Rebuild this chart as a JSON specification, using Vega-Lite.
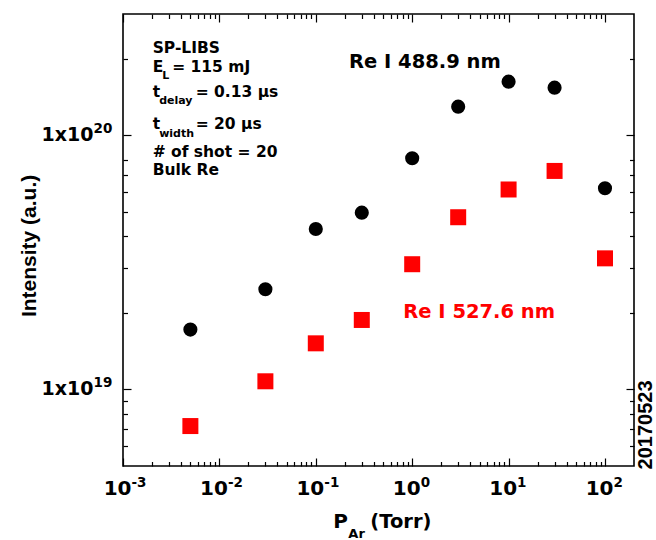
{
  "$schema": "https://vega.github.io/schema/vega-lite/v6.json",
  "width": 511,
  "height": 452,
  "autosize": {"type": "none"},
  "padding": {"left": 123, "top": 14, "right": 22, "bottom": 74},
  "background": "white",
  "config": {
    "view": {"stroke": "black", "strokeWidth": 1.6},
    "font": "DejaVu Sans",
    "axis": {"grid": false, "domain": false, "labels": false, "title": null, "tickColor": "black", "tickWidth": 1.2}
  },
  "datasets": {
    "pts": [
      {"P": 0.005, "I": 1.72e19, "line": "Re I 488.9 nm"},
      {"P": 0.03, "I": 2.48e19, "line": "Re I 488.9 nm"},
      {"P": 0.1, "I": 4.28e19, "line": "Re I 488.9 nm"},
      {"P": 0.3, "I": 4.96e19, "line": "Re I 488.9 nm"},
      {"P": 1, "I": 8.12e19, "line": "Re I 488.9 nm"},
      {"P": 3, "I": 1.296e20, "line": "Re I 488.9 nm"},
      {"P": 10, "I": 1.625e20, "line": "Re I 488.9 nm"},
      {"P": 30, "I": 1.539e20, "line": "Re I 488.9 nm"},
      {"P": 100, "I": 6.19e19, "line": "Re I 488.9 nm"},
      {"P": 0.005, "I": 7.18e18, "line": "Re I 527.6 nm"},
      {"P": 0.03, "I": 1.077e19, "line": "Re I 527.6 nm"},
      {"P": 0.1, "I": 1.519e19, "line": "Re I 527.6 nm"},
      {"P": 0.3, "I": 1.877e19, "line": "Re I 527.6 nm"},
      {"P": 1, "I": 3.11e19, "line": "Re I 527.6 nm"},
      {"P": 3, "I": 4.76e19, "line": "Re I 527.6 nm"},
      {"P": 10, "I": 6.12e19, "line": "Re I 527.6 nm"},
      {"P": 30, "I": 7.24e19, "line": "Re I 527.6 nm"},
      {"P": 100, "I": 3.28e19, "line": "Re I 527.6 nm"}
    ],
    "lblBlack": [{"P": 0.221, "I": 1.845e20, "text": "Re I 488.9 nm"}],
    "lblRed": [{"P": 0.809, "I": 1.905e19, "text": "Re I 527.6 nm"}],
    "blockMain": [
      {"P": 0.00203, "I": 2.10e20, "text": "SP-LIBS"},
      {"P": 0.00203, "I": 1.77e20, "text": "E"},
      {"P": 0.00203, "I": 1.42e20, "text": "t"},
      {"P": 0.00203, "I": 1.055e20, "text": "t"},
      {"P": 0.00203, "I": 8.24e19, "text": "# of shot = 20"},
      {"P": 0.00203, "I": 6.98e19, "text": "Bulk Re"}
    ],
    "blockSubE": [{"P": 0.00203, "I": 1.77e20, "text": "L"}],
    "blockSubT": [
      {"P": 0.00203, "I": 1.42e20, "text": "delay"},
      {"P": 0.00203, "I": 1.055e20, "text": "width"}
    ],
    "blockRestE": [{"P": 0.00203, "I": 1.77e20, "text": "= 115 mJ"}],
    "blockRestT": [
      {"P": 0.00203, "I": 1.42e20, "text": "= 0.13 µs"},
      {"P": 0.00203, "I": 1.055e20, "text": "= 20 µs"}
    ],
    "xTicks": [
      {"P": 0.001, "I": 3.845e18, "base": "10", "exp": "-3"},
      {"P": 0.01, "I": 3.845e18, "base": "10", "exp": "-2"},
      {"P": 0.1, "I": 3.845e18, "base": "10", "exp": "-1"},
      {"P": 1, "I": 3.845e18, "base": "10", "exp": "0"},
      {"P": 10, "I": 3.845e18, "base": "10", "exp": "1"},
      {"P": 100, "I": 3.845e18, "base": "10", "exp": "2"}
    ],
    "yTicks": [
      {"P": 0.001, "I": 1e19, "base": "1x10", "exp": "19"},
      {"P": 0.001, "I": 1e20, "base": "1x10", "exp": "20"}
    ],
    "yTitle": [{"P": 0.0001252, "I": 3.67e19, "text": "Intensity (a.u.)"}],
    "xTitleP": [{"P": 0.152, "I": 2.84e18, "text": "P"}],
    "xTitleSub": [{"P": 0.152, "I": 2.84e18, "text": "Ar"}],
    "xTitleRest": [{"P": 0.152, "I": 2.84e18, "text": "(Torr)"}],
    "date": [{"P": 307, "I": 7.25e18, "text": "20170523"}]
  },
  "encoding": {
    "x": {"field": "P", "type": "quantitative", "scale": {"type": "log", "domain": [0.001, 200], "nice": false}, "axis": null},
    "y": {"field": "I", "type": "quantitative", "scale": {"type": "log", "domain": [5e18, 3e20], "nice": false}, "axis": null}
  },
  "layer": [
    {
      "data": {"name": "pts"},
      "transform": [{"filter": "datum.line == 'Re I 488.9 nm'"}],
      "mark": {"type": "point", "shape": "circle", "filled": true, "color": "black", "opacity": 1, "size": 200},
      "encoding": {
        "x": {"field": "P", "type": "quantitative", "scale": {"type": "log", "domain": [0.001, 200], "nice": false},
          "axis": {"orient": "bottom", "values": [0.001, 0.01, 0.1, 1, 10, 100], "tickSize": -8}},
        "y": {"field": "I", "type": "quantitative", "scale": {"type": "log", "domain": [5e18, 3e20], "nice": false},
          "axis": {"orient": "left", "values": [1e19, 1e20], "tickSize": -8}}
      }
    },
    {
      "data": {"name": "pts"},
      "transform": [{"filter": "datum.line == 'Re I 527.6 nm'"}],
      "mark": {"type": "point", "shape": "square", "filled": true, "color": "#ff0000", "opacity": 1, "size": 256},
      "encoding": {
        "x": {"field": "P", "type": "quantitative", "scale": {"type": "log", "domain": [0.001, 200], "nice": false},
          "axis": {"orient": "top", "values": [0.001, 0.01, 0.1, 1, 10, 100], "tickSize": -8}},
        "y": {"field": "I", "type": "quantitative", "scale": {"type": "log", "domain": [5e18, 3e20], "nice": false},
          "axis": {"orient": "right", "values": [1e19, 1e20], "tickSize": -8}}
      }
    },
    {
      "data": {"name": "lblBlack"},
      "mark": {"type": "text", "align": "left", "baseline": "alphabetic", "font": "DejaVu Sans", "fontWeight": "bold", "fontSize": 19.5, "color": "black"},
      "encoding": {
        "x": {"field": "P", "type": "quantitative", "scale": {"type": "log", "domain": [0.001, 200], "nice": false},
          "axis": {"orient": "bottom", "values": [0.002, 0.003, 0.004, 0.005, 0.006, 0.007, 0.008, 0.009, 0.02, 0.03, 0.04, 0.05, 0.06, 0.07, 0.08, 0.09, 0.2, 0.3, 0.4, 0.5, 0.6, 0.7, 0.8, 0.9, 2, 3, 4, 5, 6, 7, 8, 9, 20, 30, 40, 50, 60, 70, 80, 90], "tickSize": -4.5}},
        "y": {"field": "I", "type": "quantitative", "scale": {"type": "log", "domain": [5e18, 3e20], "nice": false},
          "axis": {"orient": "left", "values": [6e18, 7e18, 8e18, 9e18, 2e19, 3e19, 4e19, 5e19, 6e19, 7e19, 8e19, 2e20], "tickSize": -4.5}},
        "text": {"field": "text"}
      }
    },
    {
      "data": {"name": "lblRed"},
      "mark": {"type": "text", "align": "left", "baseline": "alphabetic", "font": "DejaVu Sans", "fontWeight": "bold", "fontSize": 19.5, "color": "#ff0000"},
      "encoding": {
        "x": {"field": "P", "type": "quantitative", "scale": {"type": "log", "domain": [0.001, 200], "nice": false},
          "axis": {"orient": "top", "values": [0.002, 0.003, 0.004, 0.005, 0.006, 0.007, 0.008, 0.009, 0.02, 0.03, 0.04, 0.05, 0.06, 0.07, 0.08, 0.09, 0.2, 0.3, 0.4, 0.5, 0.6, 0.7, 0.8, 0.9, 2, 3, 4, 5, 6, 7, 8, 9, 20, 30, 40, 50, 60, 70, 80, 90], "tickSize": -4.5}},
        "y": {"field": "I", "type": "quantitative", "scale": {"type": "log", "domain": [5e18, 3e20], "nice": false},
          "axis": {"orient": "right", "values": [6e18, 7e18, 8e18, 9e18, 2e19, 3e19, 4e19, 5e19, 6e19, 7e19, 8e19, 2e20], "tickSize": -4.5}},
        "text": {"field": "text"}
      }
    },
    {
      "data": {"name": "blockMain"},
      "mark": {"type": "text", "align": "left", "baseline": "alphabetic", "font": "DejaVu Sans", "fontWeight": "bold", "fontSize": 15.5, "color": "black"},
      "encoding": {"text": {"field": "text"}}
    },
    {
      "data": {"name": "blockSubE"},
      "mark": {"type": "text", "align": "left", "baseline": "alphabetic", "font": "DejaVu Sans", "fontWeight": "bold", "fontSize": 11, "color": "black", "dx": 9.5, "dy": 7},
      "encoding": {"text": {"field": "text"}}
    },
    {
      "data": {"name": "blockSubT"},
      "mark": {"type": "text", "align": "left", "baseline": "alphabetic", "font": "DejaVu Sans", "fontWeight": "bold", "fontSize": 11, "color": "black", "dx": 6.5, "dy": 7.3},
      "encoding": {"text": {"field": "text"}}
    },
    {
      "data": {"name": "blockRestE"},
      "mark": {"type": "text", "align": "left", "baseline": "alphabetic", "font": "DejaVu Sans", "fontWeight": "bold", "fontSize": 15.5, "color": "black", "dx": 19.5},
      "encoding": {"text": {"field": "text"}}
    },
    {
      "data": {"name": "blockRestT"},
      "mark": {"type": "text", "align": "left", "baseline": "alphabetic", "font": "DejaVu Sans", "fontWeight": "bold", "fontSize": 15.5, "color": "black", "dx": 43},
      "encoding": {"text": {"field": "text"}}
    },
    {
      "data": {"name": "xTicks"},
      "mark": {"type": "text", "align": "right", "baseline": "alphabetic", "font": "DejaVu Sans", "fontWeight": "bold", "fontSize": 20, "color": "black", "dx": 8.5},
      "encoding": {"text": {"field": "base"}}
    },
    {
      "data": {"name": "xTicks"},
      "mark": {"type": "text", "align": "left", "baseline": "alphabetic", "font": "DejaVu Sans", "fontWeight": "bold", "fontSize": 13.5, "color": "black", "dx": 8.5, "dy": -7.5},
      "encoding": {"text": {"field": "exp"}}
    },
    {
      "data": {"name": "yTicks"},
      "mark": {"type": "text", "align": "right", "baseline": "alphabetic", "font": "DejaVu Sans", "fontWeight": "bold", "fontSize": 19, "color": "black", "dx": -29.5, "dy": 5.5},
      "encoding": {"text": {"field": "base"}}
    },
    {
      "data": {"name": "yTicks"},
      "mark": {"type": "text", "align": "left", "baseline": "alphabetic", "font": "DejaVu Sans", "fontWeight": "bold", "fontSize": 13.5, "color": "black", "dx": -29.5, "dy": -2},
      "encoding": {"text": {"field": "exp"}}
    },
    {
      "data": {"name": "yTitle"},
      "mark": {"type": "text", "align": "center", "baseline": "alphabetic", "angle": 270, "font": "Liberation Sans", "fontWeight": "bold", "fontSize": 21, "color": "black"},
      "encoding": {"text": {"field": "text"}}
    },
    {
      "data": {"name": "xTitleP"},
      "mark": {"type": "text", "align": "left", "baseline": "alphabetic", "font": "DejaVu Sans", "fontWeight": "bold", "fontSize": 20, "color": "black"},
      "encoding": {"text": {"field": "text"}}
    },
    {
      "data": {"name": "xTitleSub"},
      "mark": {"type": "text", "align": "left", "baseline": "alphabetic", "font": "DejaVu Sans", "fontWeight": "bold", "fontSize": 13, "color": "black", "dx": 15, "dy": 10},
      "encoding": {"text": {"field": "text"}}
    },
    {
      "data": {"name": "xTitleRest"},
      "mark": {"type": "text", "align": "left", "baseline": "alphabetic", "font": "DejaVu Sans", "fontWeight": "bold", "fontSize": 19.5, "color": "black", "dx": 37},
      "encoding": {"text": {"field": "text"}}
    },
    {
      "data": {"name": "date"},
      "mark": {"type": "text", "align": "center", "baseline": "alphabetic", "angle": 270, "font": "Liberation Sans", "fontWeight": "bold", "fontSize": 20, "color": "black"},
      "encoding": {"text": {"field": "text"}}
    }
  ],
  "resolve": {"axis": {"x": "independent", "y": "independent"}}
}
